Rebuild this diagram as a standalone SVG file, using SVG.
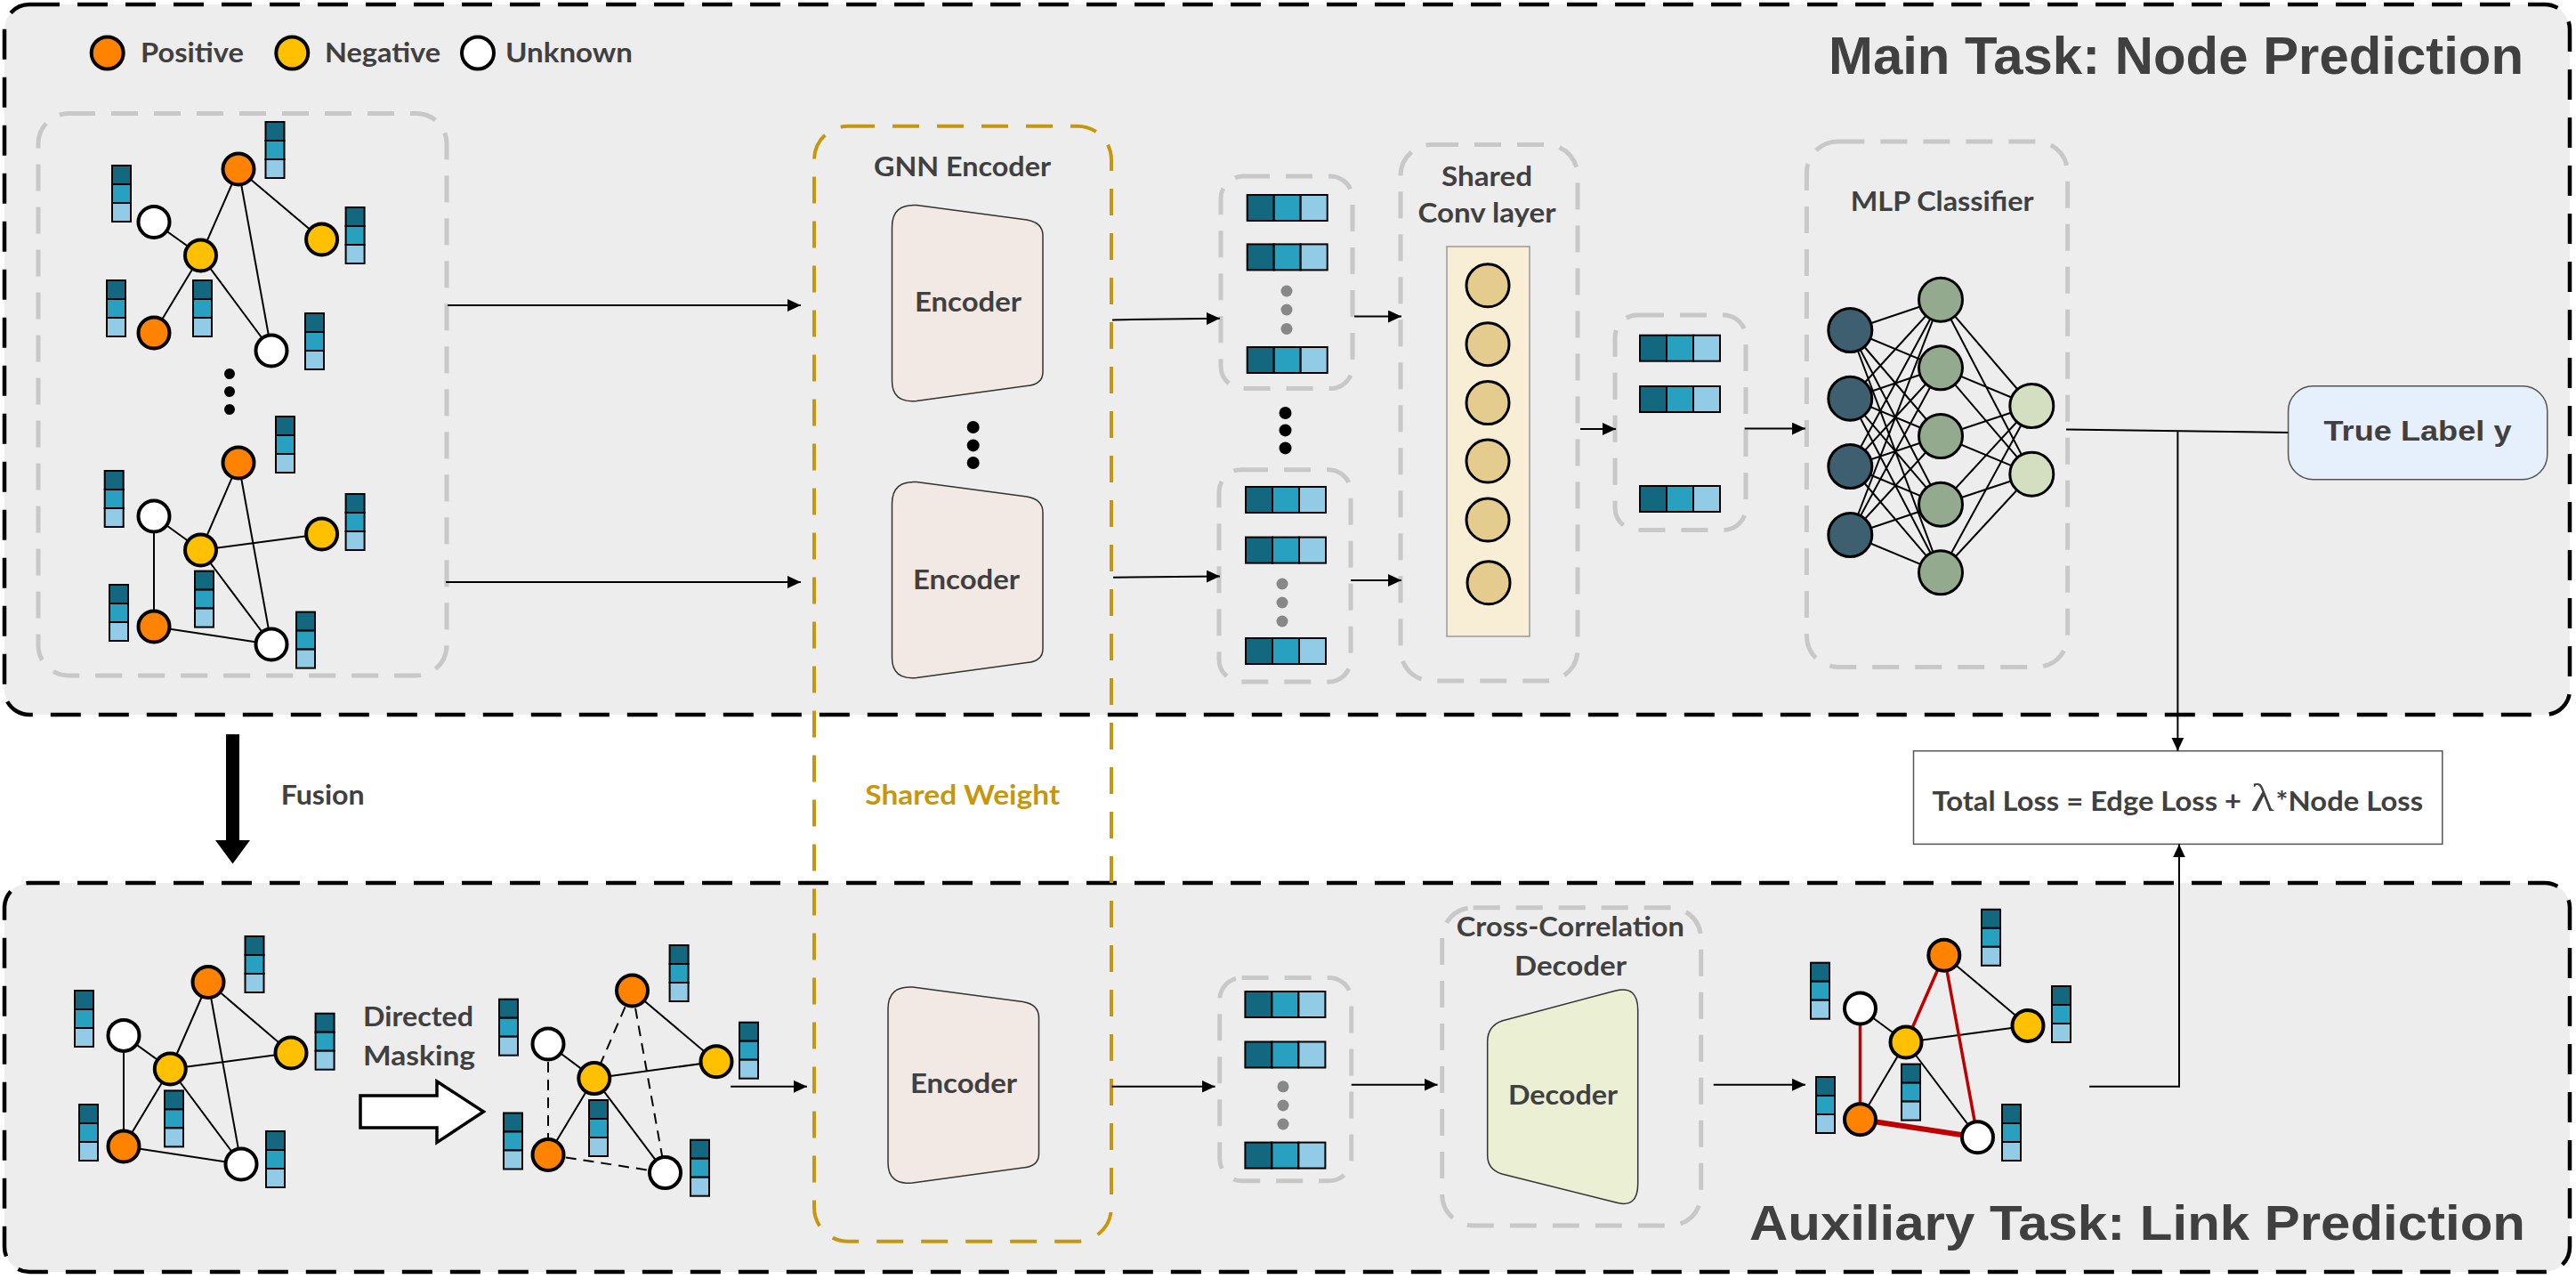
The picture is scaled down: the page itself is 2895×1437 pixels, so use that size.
<svg xmlns="http://www.w3.org/2000/svg" xmlns:xlink="http://www.w3.org/1999/xlink" width="2895" height="1437" viewBox="0 0 2895 1437">
<style>
.panel{fill:#ededed;stroke:#000;stroke-width:4.5;stroke-dasharray:34 20}
.gbox{fill:none;stroke:#c8c8c8;stroke-width:5;stroke-dasharray:30 18}
.gold{fill:none;stroke:#c8960c;stroke-width:4;stroke-dasharray:30 20}
.lbl{font-family:Lato,"Open Sans","Liberation Sans",sans-serif;font-weight:bold;fill:#404040;font-size:31px}
.ttl{font-family:"Liberation Sans",Arial,sans-serif;font-weight:bold;fill:#404040}
.pos{fill:#ff8200;stroke:#000;stroke-width:4}
.neg{fill:#ffc000;stroke:#000;stroke-width:4}
.unk{fill:#fff;stroke:#000;stroke-width:4}
.e{stroke:#000;stroke-width:2;fill:none}
.ed{stroke:#000;stroke-width:2;fill:none;stroke-dasharray:12 8}
.er{stroke:#c00000;stroke-width:3.5;fill:none}
.c1{fill:#13677f;stroke:#000;stroke-width:2}
.c2{fill:#28a0bf;stroke:#000;stroke-width:2}
.c3{fill:#92cbe6;stroke:#000;stroke-width:2}
.conn{stroke:#000;stroke-width:2;fill:none}
.mlpE{stroke:#000;stroke-width:2}
.enc{fill:#f2e8e4;stroke:#333;stroke-width:1.5}
.dec{fill:#ebefd3;stroke:#333;stroke-width:1.5}
</style>
<defs>
<g id="vbar"><rect class="c1" x="0" y="0" width="21" height="21"/><rect class="c2" x="0" y="21" width="21" height="21"/><rect class="c3" x="0" y="42" width="21" height="21"/></g>
<g id="hrow"><rect class="c1" x="0" y="0" width="30" height="29"/><rect class="c2" x="30" y="0" width="30" height="29"/><rect class="c3" x="60" y="0" width="30" height="29"/></g>
<marker id="ah" markerUnits="userSpaceOnUse" markerWidth="16" markerHeight="14" refX="15" refY="7" orient="auto"><path d="M0,0 L15,7 L0,14 z" fill="#000"/></marker>
</defs>

<rect width="2895" height="1437" fill="#fff"/>

<!-- panels -->
<g id="main-panel">
<rect class="panel" x="5" y="5" width="2883" height="798" rx="28"/>
<text class="ttl" x="2055" y="83" font-size="60" textLength="781" lengthAdjust="spacingAndGlyphs">Main Task: Node Prediction</text>
</g>
<g id="aux-panel">
<rect class="panel" x="5" y="992" width="2883" height="437" rx="28"/>
<text class="ttl" x="1966" y="1393" font-size="56" textLength="872" lengthAdjust="spacingAndGlyphs">Auxiliary Task: Link Prediction</text>
</g>

<!-- legend -->
<g id="legend">
<circle class="pos" cx="120.7" cy="59.5" r="18"/>
<text class="lbl" x="158" y="69.5" textLength="116" lengthAdjust="spacingAndGlyphs">Positive</text>
<circle class="neg" cx="328.3" cy="59.5" r="18"/>
<text class="lbl" x="365" y="69.5" textLength="130" lengthAdjust="spacingAndGlyphs">Negative</text>
<circle class="unk" cx="537" cy="59.5" r="18"/>
<text class="lbl" x="568" y="69.5" textLength="143" lengthAdjust="spacingAndGlyphs">Unknown</text>
</g>

<!-- input graphs -->
<g id="input-graphs">
<rect class="gbox" x="43" y="127.5" width="459" height="631.5" rx="34"/>
<g id="graph1">
<path class="e" d="M268,190 L225.5,287 M268,190 L361.6,269 M268,190 L305,394 M173,249.5 L225.5,287 M225.5,287 L173,374 M225.5,287 L305,394"/>
<circle class="pos" cx="268" cy="190" r="17.5"/><circle class="unk" cx="173" cy="249.5" r="17.5"/><circle class="neg" cx="225.5" cy="287" r="17.5"/><circle class="neg" cx="361.6" cy="269" r="17.5"/><circle class="pos" cx="173" cy="374" r="17.5"/><circle class="unk" cx="305" cy="394" r="17.5"/>
<use xlink:href="#vbar" x="298.5" y="137"/><use xlink:href="#vbar" x="126" y="186"/><use xlink:href="#vbar" x="388.6" y="233"/><use xlink:href="#vbar" x="120" y="315"/><use xlink:href="#vbar" x="217" y="315"/><use xlink:href="#vbar" x="343" y="352"/>
</g>
<g fill="#000"><circle cx="258" cy="420" r="6"/><circle cx="258" cy="440" r="6"/><circle cx="258" cy="460" r="6"/></g>
<g id="graph2">
<path class="e" d="M268,520 L225.5,618 M268,520 L305,724 M173,580 L225.5,618 M173,580 L173,704 M225.5,618 L361.6,600 M225.5,618 L305,724 M173,704 L305,724"/>
<circle class="pos" cx="268" cy="520" r="17.5"/><circle class="unk" cx="173" cy="580" r="17.5"/><circle class="neg" cx="225.5" cy="618" r="17.5"/><circle class="neg" cx="361.6" cy="600" r="17.5"/><circle class="pos" cx="173" cy="704" r="17.5"/><circle class="unk" cx="305" cy="724" r="17.5"/>
<use xlink:href="#vbar" x="310" y="468"/><use xlink:href="#vbar" x="117.7" y="529"/><use xlink:href="#vbar" x="388.6" y="555"/><use xlink:href="#vbar" x="123" y="657"/><use xlink:href="#vbar" x="219" y="641.6"/><use xlink:href="#vbar" x="333" y="687.6"/>
</g>
</g>

<!-- GNN encoder -->
<g id="gnn-encoder">
<text class="lbl" x="1081.5" y="198" text-anchor="middle" textLength="199" lengthAdjust="spacingAndGlyphs">GNN Encoder</text>
<g id="encoder1">
<path class="enc" d="M1002.5,255 Q1002.5,229 1030,230.6 L1154,247 Q1172,250 1172,265 L1172,418 Q1172,432 1154,433.5 L1030,450.5 Q1002.5,453 1002.5,428 Z"/>
<text class="lbl" x="1088" y="350" text-anchor="middle" textLength="120" lengthAdjust="spacingAndGlyphs">Encoder</text>
</g>
<g fill="#000"><circle cx="1093.7" cy="480" r="7"/><circle cx="1093.7" cy="500.4" r="7"/><circle cx="1093.7" cy="520" r="7"/></g>
<g id="encoder2">
<path class="enc" transform="translate(0,311)" d="M1002.5,255 Q1002.5,229 1030,230.6 L1154,247 Q1172,250 1172,265 L1172,418 Q1172,432 1154,433.5 L1030,450.5 Q1002.5,453 1002.5,428 Z"/>
<text class="lbl" x="1086" y="662" text-anchor="middle" textLength="120" lengthAdjust="spacingAndGlyphs">Encoder</text>
</g>
<g id="encoder3">
<path class="enc" transform="translate(-4.5,878.5)" d="M1002.5,255 Q1002.5,229 1030,230.6 L1154,247 Q1172,250 1172,265 L1172,418 Q1172,432 1154,433.5 L1030,450.5 Q1002.5,453 1002.5,428 Z"/>
<text class="lbl" x="1083" y="1228" text-anchor="middle" textLength="120" lengthAdjust="spacingAndGlyphs">Encoder</text>
</g>
</g>
<g id="shared-weight">
<rect class="gold" x="915" y="141.7" width="334" height="1253" rx="38"/>
<text class="lbl" x="1081.8" y="903.6" text-anchor="middle" fill="#c8960c" style="fill:#c8960c" textLength="219" lengthAdjust="spacingAndGlyphs">Shared Weight</text>
</g>

<!-- embeddings -->
<g id="emb1">
<rect class="gbox" x="1372" y="198" width="148" height="238.6" rx="25"/>
<use xlink:href="#hrow" x="1401.7" y="219"/><use xlink:href="#hrow" x="1401.7" y="274.4"/><use xlink:href="#hrow" x="1401.7" y="390"/>
<g fill="#888"><circle cx="1446" cy="327" r="6.5"/><circle cx="1446" cy="348" r="6.5"/><circle cx="1446" cy="369.4" r="6.5"/></g>
</g>
<g fill="#000"><circle cx="1444.5" cy="464" r="7"/><circle cx="1444.5" cy="483.4" r="7"/><circle cx="1444.5" cy="503.4" r="7"/></g>
<g id="emb2">
<rect class="gbox" x="1370" y="527.7" width="148" height="238.3" rx="25"/>
<use xlink:href="#hrow" x="1400" y="547"/><use xlink:href="#hrow" x="1400" y="603.6"/><use xlink:href="#hrow" x="1400" y="717"/>
<g fill="#888"><circle cx="1441" cy="656" r="6.5"/><circle cx="1441" cy="677" r="6.5"/><circle cx="1441" cy="698" r="6.5"/></g>
</g>

<!-- shared conv -->
<g id="shared-conv">
<rect class="gbox" x="1574" y="162.5" width="199" height="602.5" rx="35"/>
<text class="lbl" x="1671" y="209" text-anchor="middle" textLength="102" lengthAdjust="spacingAndGlyphs">Shared</text>
<text class="lbl" x="1671" y="250" text-anchor="middle" textLength="155" lengthAdjust="spacingAndGlyphs">Conv layer</text>
<rect x="1626" y="277" width="93" height="438" fill="#f8eed5" stroke="#999" stroke-width="1.5"/>
<g fill="#e4cc8f" stroke="#000" stroke-width="3">
<circle cx="1672" cy="320.8" r="24"/><circle cx="1672" cy="386.7" r="24"/><circle cx="1672" cy="452.6" r="24"/><circle cx="1672" cy="518" r="24"/><circle cx="1672" cy="584" r="24"/><circle cx="1673" cy="654.8" r="24"/>
</g>
</g>

<g id="emb3">
<rect class="gbox" x="1815" y="354" width="147" height="241.4" rx="25"/>
<use xlink:href="#hrow" x="1843" y="376.7"/><use xlink:href="#hrow" x="1843" y="434"/><use xlink:href="#hrow" x="1843" y="546"/>
</g>

<!-- MLP -->
<g id="mlp-classifier">
<rect class="gbox" x="2030.4" y="159" width="293.3" height="590.4" rx="35"/>
<text class="lbl" x="2182.7" y="237" text-anchor="middle" textLength="206" lengthAdjust="spacingAndGlyphs">MLP Classifier</text>
<g class="mlpE">
<path class="e" d="M2079.3,371 L2181,336.7 M2079.3,371 L2181,413.3 M2079.3,371 L2181,490 M2079.3,371 L2181,566.7 M2079.3,371 L2181,643.3
M2079.3,447.7 L2181,336.7 M2079.3,447.7 L2181,413.3 M2079.3,447.7 L2181,490 M2079.3,447.7 L2181,566.7 M2079.3,447.7 L2181,643.3
M2079.3,524 L2181,336.7 M2079.3,524 L2181,413.3 M2079.3,524 L2181,490 M2079.3,524 L2181,566.7 M2079.3,524 L2181,643.3
M2079.3,601 L2181,336.7 M2079.3,601 L2181,413.3 M2079.3,601 L2181,490 M2079.3,601 L2181,566.7 M2079.3,601 L2181,643.3
M2181,336.7 L2283.3,456 M2181,413.3 L2283.3,456 M2181,490 L2283.3,456 M2181,566.7 L2283.3,456 M2181,643.3 L2283.3,456
M2181,336.7 L2283.3,532.7 M2181,413.3 L2283.3,532.7 M2181,490 L2283.3,532.7 M2181,566.7 L2283.3,532.7 M2181,643.3 L2283.3,532.7"/>
</g>
<g stroke="#000" stroke-width="3">
<circle cx="2079.3" cy="371" r="24.5" fill="#3d5f6f"/><circle cx="2079.3" cy="447.7" r="24.5" fill="#3d5f6f"/><circle cx="2079.3" cy="524" r="24.5" fill="#3d5f6f"/><circle cx="2079.3" cy="601" r="24.5" fill="#3d5f6f"/>
<circle cx="2181" cy="336.7" r="24.5" fill="#93aa8e"/><circle cx="2181" cy="413.3" r="24.5" fill="#93aa8e"/><circle cx="2181" cy="490" r="24.5" fill="#93aa8e"/><circle cx="2181" cy="566.7" r="24.5" fill="#93aa8e"/><circle cx="2181" cy="643.3" r="24.5" fill="#93aa8e"/>
<circle cx="2283.3" cy="456" r="24.5" fill="#d3dfc0"/><circle cx="2283.3" cy="532.7" r="24.5" fill="#d3dfc0"/>
</g>
</g>

<g id="true-label">
<rect x="2571.6" y="433.8" width="291.2" height="104.9" rx="28" fill="#e6f0fc" stroke="#555" stroke-width="1.5"/>
<text class="ttl" x="2717" y="495" font-size="32" text-anchor="middle" textLength="211" lengthAdjust="spacingAndGlyphs">True Label y</text>
</g>

<g id="total-loss">
<rect x="2150.5" y="843.7" width="594.3" height="104.7" fill="#fff" stroke="#555" stroke-width="1.5"/>
<text class="lbl" x="2171.5" y="910.7" font-size="30" style="font-size:30px" textLength="347.5" lengthAdjust="spacingAndGlyphs">Total Loss = Edge Loss +</text>
<text x="2529.7" y="910.7" font-family="'Liberation Serif','DejaVu Serif',serif" font-size="44" fill="#404040" textLength="26" lengthAdjust="spacingAndGlyphs">λ</text>
<text class="lbl" x="2557.6" y="910.7" font-size="30" style="font-size:30px" textLength="165.5" lengthAdjust="spacingAndGlyphs">*Node Loss</text>
</g>

<g id="fusion">
<path d="M254,825 L269,825 L269,944 L281,944 L261.5,970.6 L242,944 L254,944 Z" fill="#000"/>
<text class="lbl" x="315.7" y="903.6" textLength="94" lengthAdjust="spacingAndGlyphs">Fusion</text>
</g>

<!-- aux graphs -->
<g id="graph-original">
<path class="e" d="M234,1103.5 L191.3,1201 M234,1103.5 L327,1183 M234,1103.5 L271,1308 M139,1163.4 L191.3,1201 M139,1163.4 L139,1288 M191.3,1201 L327,1183 M191.3,1201 L139,1288 M191.3,1201 L271,1308 M139,1288 L271,1308"/>
<circle class="pos" cx="234" cy="1103.5" r="17.5"/><circle class="unk" cx="139" cy="1163.4" r="17.5"/><circle class="neg" cx="191.3" cy="1201" r="17.5"/><circle class="neg" cx="327" cy="1183" r="17.5"/><circle class="pos" cx="139" cy="1288" r="17.5"/><circle class="unk" cx="271" cy="1308" r="17.5"/>
<use xlink:href="#vbar" x="275.5" y="1052"/><use xlink:href="#vbar" x="84" y="1113"/><use xlink:href="#vbar" x="354.6" y="1138.7"/><use xlink:href="#vbar" x="185" y="1225.4"/><use xlink:href="#vbar" x="89" y="1241"/><use xlink:href="#vbar" x="299" y="1271"/>
</g>

<g id="directed-masking">
<text class="lbl" x="408" y="1153" textLength="124" lengthAdjust="spacingAndGlyphs">Directed</text>
<text class="lbl" x="408" y="1197" textLength="126" lengthAdjust="spacingAndGlyphs">Masking</text>
<path d="M405,1231 L491,1231 L491,1215 L543.4,1249 L491,1283.6 L491,1267 L405,1267 Z" fill="#fff" stroke="#000" stroke-width="3.5"/>
</g>

<g id="graph-masked">
<path class="e" d="M710.5,1113 L805,1192.7 M616,1173 L667.8,1211.6 M667.8,1211.6 L805,1192.7 M667.8,1211.6 L616,1297.5 M667.8,1211.6 L747.5,1317.6"/>
<path class="ed" d="M710.5,1113 L667.8,1211.6 M710.5,1113 L747.5,1317.6 M616,1173 L616,1297.5 M616,1297.5 L747.5,1317.6"/>
<circle class="pos" cx="710.5" cy="1113" r="17.5"/><circle class="unk" cx="616" cy="1173" r="17.5"/><circle class="neg" cx="667.8" cy="1211.6" r="17.5"/><circle class="neg" cx="805" cy="1192.7" r="17.5"/><circle class="pos" cx="616" cy="1297.5" r="17.5"/><circle class="unk" cx="747.5" cy="1317.6" r="17.5"/>
<use xlink:href="#vbar" x="752.6" y="1062"/><use xlink:href="#vbar" x="561" y="1122.7"/><use xlink:href="#vbar" x="831" y="1148.7"/><use xlink:href="#vbar" x="662" y="1236"/><use xlink:href="#vbar" x="566" y="1250.5"/><use xlink:href="#vbar" x="776" y="1280.7"/>
</g>

<g id="emb4">
<rect class="gbox" x="1370.7" y="1098.4" width="148" height="228.4" rx="25"/>
<use xlink:href="#hrow" x="1399.4" y="1114"/><use xlink:href="#hrow" x="1399.4" y="1170.5"/><use xlink:href="#hrow" x="1399.4" y="1283.6"/>
<g fill="#888"><circle cx="1442" cy="1220.8" r="6.5"/><circle cx="1442" cy="1242" r="6.5"/><circle cx="1442" cy="1263" r="6.5"/></g>
</g>

<g id="cross-correlation-decoder">
<rect class="gbox" x="1620.7" y="1019.7" width="291" height="357.3" rx="35"/>
<text class="lbl" x="1764.8" y="1052" text-anchor="middle" textLength="256" lengthAdjust="spacingAndGlyphs">Cross-Correlation</text>
<text class="lbl" x="1765" y="1096" text-anchor="middle" textLength="126" lengthAdjust="spacingAndGlyphs">Decoder</text>
<path class="dec" d="M1671.7,1170 Q1671.7,1153 1688,1147 L1816,1113 Q1840.7,1107 1840.7,1135 L1840.7,1330 Q1840.7,1358 1816,1351 L1688,1319 Q1671.7,1314 1671.7,1298 Z"/>
<text class="lbl" x="1756.5" y="1241" text-anchor="middle" textLength="123" lengthAdjust="spacingAndGlyphs">Decoder</text>
</g>

<g id="graph-predicted">
<path class="e" d="M2184.8,1073.3 L2279,1152.5 M2090.5,1133 L2142,1171 M2142,1171 L2279,1152.5 M2142,1171 L2090.5,1257.7 M2142,1171 L2222.5,1277.8"/>
<path class="er" d="M2184.8,1073.3 L2142,1171 M2184.8,1073.3 L2222.5,1277.8 M2090.5,1133 L2090.5,1257.7"/>
<path class="er" stroke-width="6" style="stroke-width:6" d="M2090.5,1257.7 L2222.5,1277.8"/>
<circle class="pos" cx="2184.8" cy="1073.3" r="17.5"/><circle class="unk" cx="2090.5" cy="1133" r="17.5"/><circle class="neg" cx="2142" cy="1171" r="17.5"/><circle class="neg" cx="2279" cy="1152.5" r="17.5"/><circle class="pos" cx="2090.5" cy="1257.7" r="17.5"/><circle class="unk" cx="2222.5" cy="1277.8" r="17.5"/>
<use xlink:href="#vbar" x="2227" y="1021.8"/><use xlink:href="#vbar" x="2035" y="1081.7"/><use xlink:href="#vbar" x="2306" y="1108"/><use xlink:href="#vbar" x="2137" y="1195.6"/><use xlink:href="#vbar" x="2041" y="1210"/><use xlink:href="#vbar" x="2250" y="1241"/>
</g>

<!-- connectors -->
<g id="connectors">
<path class="conn" marker-end="url(#ah)" d="M503,343 L900,343"/>
<path class="conn" marker-end="url(#ah)" d="M501,654 L900,654"/>
<path class="conn" marker-end="url(#ah)" d="M1250,359.4 L1371,357.7"/>
<path class="conn" marker-end="url(#ah)" d="M1251,648.7 L1371,647.4"/>
<path class="conn" marker-end="url(#ah)" d="M1522,355.5 L1575,355.5"/>
<path class="conn" marker-end="url(#ah)" d="M1518,652 L1575,652"/>
<path class="conn" marker-end="url(#ah)" d="M1776,482 L1816,482"/>
<path class="conn" marker-end="url(#ah)" d="M1960.6,481.6 L2029,481.6"/>
<path class="conn" d="M2322,482.5 L2571.6,486"/>
<path class="conn" marker-end="url(#ah)" d="M2447.4,484.7 L2447.4,843.7"/>
<path class="conn" marker-end="url(#ah)" d="M2348,1220.8 L2449,1220.8 L2449,948.4"/>
<path class="conn" marker-end="url(#ah)" d="M821,1220.8 L907,1220.8"/>
<path class="conn" marker-end="url(#ah)" d="M1249.5,1220.8 L1365.6,1220.8"/>
<path class="conn" marker-end="url(#ah)" d="M1518.7,1218.7 L1615.6,1218.7"/>
<path class="conn" marker-end="url(#ah)" d="M1925.7,1218.7 L2029,1218.7"/>
</g>
</svg>
